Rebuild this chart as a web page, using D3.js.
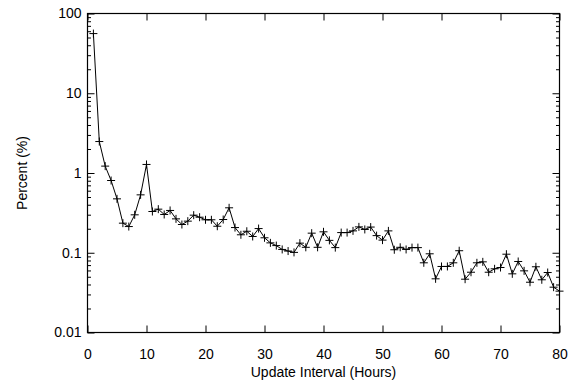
<!DOCTYPE html>
<html>
<head>
<meta charset="utf-8">
<script src="https://cdn.jsdelivr.net/npm/d3@7"></script>
<style>
  html, body { margin: 0; padding: 0; background: #fff; }
  svg { display: block; }
  text { font-family: "Liberation Sans", Arial, Helvetica, sans-serif; fill: #000; }
</style>
</head>
<body>
<svg id="chart" width="575" height="382"></svg>
<script>
// ---- data ----
const hours = [1,2,3,4,5,6,7,8,9,10,11,12,13,14,15,16,17,18,19,20,
  21,22,23,24,25,26,27,28,29,30,31,32,33,34,35,36,37,38,39,40,
  41,42,43,44,45,46,47,48,49,50,51,52,53,54,55,56,57,58,59,60,
  61,62,63,64,65,66,67,68,69,70,71,72,73,74,75,76,77,78,79,80];
const percent = [56, 2.48, 1.22, 0.805, 0.474, 0.235, 0.213, 0.299, 0.532, 1.28,
  0.329, 0.352, 0.302, 0.339, 0.266, 0.226, 0.249, 0.296, 0.279, 0.259,
  0.259, 0.215, 0.261, 0.366, 0.207, 0.168, 0.186, 0.160, 0.201, 0.154,
  0.133, 0.123, 0.110, 0.105, 0.101, 0.132, 0.117, 0.176, 0.117, 0.183,
  0.143, 0.116, 0.179, 0.179, 0.188, 0.211, 0.196, 0.210, 0.164, 0.144,
  0.188, 0.109, 0.117, 0.110, 0.116, 0.116, 0.0748, 0.0970, 0.0471, 0.0673,
  0.0673, 0.0748, 0.106, 0.0466, 0.0570, 0.0748, 0.0769, 0.0570, 0.0629, 0.0653,
  0.0959, 0.0544, 0.0777, 0.0593, 0.0427, 0.0667, 0.0458, 0.0565, 0.0370, 0.0330];
const xTicks = [0,10,20,30,40,50,60,70,80];
const yTicks = [0.01,0.1,1,10,100];
const yTickLabels = ["0.01","0.1","1","10","100"];
const xLabel = "Update Interval (Hours)";
const yLabel = "Percent (%)";

// ---- layout ----
const svg = d3.select("#chart");
const L = 87.5, R = 559.5, T = 13.5, B = 332.5;
const x = d3.scaleLinear().domain([0, 80]).range([L, R]);
const y = d3.scaleLog().domain([0.01, 100]).range([B, T]);

// minor ticks for log axis
const minorY = [];
for (let e = -2; e < 2; e++) for (let m = 2; m <= 9; m++) minorY.push(m * Math.pow(10, e));

function styleAxis(g) {
  g.select(".domain").remove();
  g.selectAll(".tick line").attr("stroke", "#000").attr("stroke-width", 1);
  g.selectAll(".tick text").style("font-size", "14px");
}

// left major
svg.append("g").attr("transform", `translate(${L},0)`)
  .call(d3.axisLeft(y).tickValues(yTicks).tickSize(-7).tickPadding(6)
    .tickFormat((d, i) => yTickLabels[i]))
  .call(styleAxis);
// left minor
svg.append("g").attr("transform", `translate(${L},0)`)
  .call(d3.axisLeft(y).tickValues(minorY).tickSize(-3.5).tickFormat(""))
  .call(styleAxis);
// right major
svg.append("g").attr("transform", `translate(${R},0)`)
  .call(d3.axisRight(y).tickValues(yTicks).tickSize(-7).tickFormat(""))
  .call(styleAxis);
// right minor
svg.append("g").attr("transform", `translate(${R},0)`)
  .call(d3.axisRight(y).tickValues(minorY).tickSize(-3.5).tickFormat(""))
  .call(styleAxis);
// bottom
svg.append("g").attr("transform", `translate(0,${B})`)
  .call(d3.axisBottom(x).tickValues(xTicks).tickSize(-7).tickPadding(17))
  .call(styleAxis);
// top
svg.append("g").attr("transform", `translate(0,${T})`)
  .call(d3.axisTop(x).tickValues(xTicks).tickSize(-7).tickFormat(""))
  .call(styleAxis);

// frame
svg.append("rect").attr("x", L).attr("y", T).attr("width", R - L).attr("height", B - T)
  .attr("fill", "none").attr("stroke", "#000").attr("stroke-width", 1.2);

// data line
const pts = hours.map((h, i) => [h, percent[i]]);
svg.append("path").datum(pts)
  .attr("fill", "none").attr("stroke", "#000").attr("stroke-width", 1)
  .attr("d", d3.line().x(d => x(d[0])).y(d => y(d[1])));

// markers
svg.append("g").selectAll("path").data(pts).join("path")
  .attr("transform", d => `translate(${x(d[0])},${y(d[1])})`)
  .attr("d", "M-4,0H4M0,-4V4")
  .attr("stroke", "#000").attr("stroke-width", 1).attr("fill", "none");

// axis labels
svg.append("text").attr("x", (L + R) / 2).attr("y", 377)
  .attr("text-anchor", "middle").style("font-size", "14px").text(xLabel);
svg.append("text").attr("transform", `translate(27,${(T + B) / 2}) rotate(-90)`)
  .attr("text-anchor", "middle").style("font-size", "14px").text(yLabel);
</script>
</body>
</html>
